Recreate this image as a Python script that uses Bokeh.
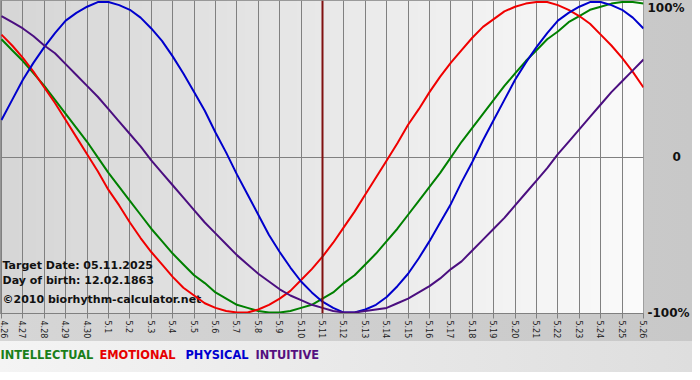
import math
import numpy as np
from bokeh.plotting import figure
from bokeh.layouts import column
from bokeh.models import Range1d, FixedTicker, Span, Label
from bokeh.embed import file_html
from bokeh.resources import INLINE

# ---- data (every half day) ----
days = list(range(31))
day_labels = ["4.26", "4.27", "4.28", "4.29", "4.30",
              "5.1", "5.2", "5.3", "5.4", "5.5", "5.6", "5.7", "5.8", "5.9", "5.10",
              "5.11", "5.12", "5.13", "5.14", "5.15", "5.16", "5.17", "5.18", "5.19",
              "5.20", "5.21", "5.22", "5.23", "5.24", "5.25", "5.26"]
t = [0, 0.5, 1, 1.5, 2, 2.5, 3, 3.5, 4, 4.5, 5, 5.5, 6, 6.5, 7, 7.5, 8, 8.5, 9, 9.5,
     10, 10.5, 11, 11.5, 12, 12.5, 13, 13.5, 14, 14.5, 15, 15.5, 16, 16.5, 17, 17.5, 18, 18.5, 19, 19.5,
     20, 20.5, 21, 21.5, 22, 22.5, 23, 23.5, 24, 24.5, 25, 25.5, 26, 26.5, 27, 27.5, 28, 28.5, 29, 29.5, 30]
intellectual = [76, 69, 62, 54, 46, 37, 28, 19, 10, 0, -10, -19, -28, -37, -46, -54, -62, -69, -76, -81,
                -87, -91, -95, -97, -99, -100, -100, -99, -97, -95, -91, -87, -81, -76, -69, -62, -54, -46, -37, -28,
                -19, -10, 0, 10, 19, 28, 37, 46, 54, 62, 69, 76, 81, 87, 91, 95, 97, 99, 100, 100, 99]
emotional = [79, 72, 64, 55, 45, 35, 24, 13, 2, -9, -21, -31, -42, -52, -61, -69, -77, -84, -89, -94,
             -97, -99, -100, -100, -98, -95, -91, -86, -79, -72, -64, -55, -45, -35, -24, -13, -2, 9, 21, 31,
             42, 52, 61, 69, 77, 84, 89, 94, 97, 99, 100, 100, 98, 95, 91, 86, 79, 72, 64, 55, 45]
physical = [24, 37, 50, 61, 71, 80, 88, 93, 97, 100, 100, 98, 95, 90, 83, 75, 65, 54, 42, 30,
            16, 3, -11, -24, -37, -50, -61, -71, -80, -87, -93, -97, -100, -100, -98, -95, -90, -83, -75, -65,
            -54, -42, -30, -16, -3, 11, 24, 37, 50, 61, 71, 80, 88, 93, 97, 100, 100, 98, 95, 90, 83]
intuitive = [91, 87, 83, 78, 72, 67, 60, 53, 46, 39, 31, 23, 15, 7, -2, -10, -18, -26, -34, -42,
             -49, -56, -63, -69, -75, -80, -85, -89, -92, -95, -97, -99, -100, -100, -99, -98, -97, -94, -91, -87,
             -83, -78, -72, -67, -60, -53, -46, -39, -31, -23, -15, -7, 2, 10, 18, 26, 34, 42, 49, 56, 63]
target_day = 15
y_ticks = [-100, 0, 100]
y_tick_labels = ["-100%", "\u2007\u2007\u20070", "100%"]
info_lines = ["Target Date: 05.11.2025", "Day of birth: 12.02.1863", "\u00a92010 biorhythm-calculator.net"]
info_y = [-69.9, -79.3, -91.9]
legend_names = ["INTELLECTUAL", "EMOTIONAL", "PHYSICAL", "INTUITIVE"]

# ---- style ----
FONT = "DejaVu Sans"
c_int, c_emo, c_phy, c_itu = "#008000", "#f00000", "#0000cc", "#4b0f80"
legend_colors = ["#1a7f1a", "#e60000", "#0000d0", "#55107f"]
legend_x = [0, 99, 185, 255]

x0, x1 = -0.046, 30.0
y0, y1 = -100.6, 101.0
W = 692
H_MAIN = 341
H_LEG = 31

p = figure(width=W, height=H_MAIN, output_backend="svg", toolbar_location=None,
           x_range=Range1d(x0, x1), y_range=Range1d(y0, y1),
           y_axis_location="right",
           min_border_left=0, min_border_top=0, min_border_right=49, min_border_bottom=24)
p.border_fill_color = None
p.background_fill_color = None
p.outline_line_color = "#808080"
p.styles = {"background": "linear-gradient(to right, #d6d6d6, #c8c8c8)"}

# plot-area gradient
n = 256
grad = np.linspace(214, 251, n).astype(np.uint8)
img = np.zeros((1, n), dtype=np.uint32)
view = img.view(dtype=np.uint8).reshape((1, n, 4))
view[0, :, 0] = grad
view[0, :, 1] = grad
view[0, :, 2] = grad
view[0, :, 3] = 255
p.image_rgba(image=[img], x=x0, y=y0, dw=x1 - x0, dh=y1 - y0, level="image")

# grid
p.xgrid.ticker = FixedTicker(ticks=days)
p.xgrid.grid_line_color = "#808080"
p.ygrid.ticker = FixedTicker(ticks=[0])
p.ygrid.grid_line_color = "#808080"

# bottom axis
p.xaxis.ticker = FixedTicker(ticks=days)
p.xaxis.major_label_overrides = {d: l for d, l in zip(days, day_labels)}
p.xaxis.major_label_orientation = -math.pi / 2
p.xaxis.major_label_text_font = FONT
p.xaxis.major_label_text_font_size = "8px"
p.xaxis.major_label_text_color = "#222222"
p.xaxis.major_label_standoff = 2
p.xaxis.major_tick_in = 0
p.xaxis.major_tick_out = 5
p.xaxis.major_tick_line_color = "#808080"
p.xaxis.minor_tick_line_color = None
p.xaxis.axis_line_color = "#808080"

# right axis
p.yaxis.ticker = FixedTicker(ticks=y_ticks)
p.yaxis.major_label_overrides = {tk: l for tk, l in zip(y_ticks, y_tick_labels)}
p.yaxis.major_label_text_font = FONT
p.yaxis.major_label_text_font_style = "bold"
p.yaxis.major_label_text_font_size = "12px"
p.yaxis.major_label_text_color = "#111111"
p.yaxis.major_label_standoff = 4
p.yaxis.major_tick_in = 0
p.yaxis.major_tick_out = 0
p.yaxis.major_tick_line_color = None
p.yaxis.minor_tick_line_color = None
p.yaxis.axis_line_color = None

# info text
for txt, yy in zip(info_lines, info_y):
    p.add_layout(Label(x=x0, y=yy, x_offset=2, text=txt, text_font=FONT, text_font_style="bold",
                       text_font_size="11px", text_color="#111111", text_baseline="middle",
                       level="underlay"))

# curves
p.line(t, intellectual, line_color=c_int, line_width=2)
p.line(t, emotional, line_color=c_emo, line_width=2)
p.line(t, physical, line_color=c_phy, line_width=2)
p.line(t, intuitive, line_color=c_itu, line_width=2)

# target date line
p.add_layout(Span(location=target_day, dimension="height", line_color="#801010", line_width=2))

# legend strip
q = figure(width=W, height=H_LEG, output_backend="svg", toolbar_location=None,
           x_range=Range1d(0, W), y_range=Range1d(0, H_LEG),
           x_axis_type=None, y_axis_type=None,
           min_border=0, min_border_left=0, min_border_right=0, min_border_top=0, min_border_bottom=0)
q.grid.visible = False
q.outline_line_color = None
q.border_fill_color = None
q.background_fill_color = None
q.styles = {"background": "linear-gradient(to right, #f4f4f4, #dedede)"}
for name, col, xx in zip(legend_names, legend_colors, legend_x):
    q.add_layout(Label(x=xx, y=H_LEG - 13, x_units="screen", text=name, text_font=FONT,
                       text_font_style="bold", text_font_size="11.4px", text_color=col,
                       text_baseline="middle"))

layout = column(p, q, spacing=0)
open("out.html", "w").write(file_html(layout, INLINE))
